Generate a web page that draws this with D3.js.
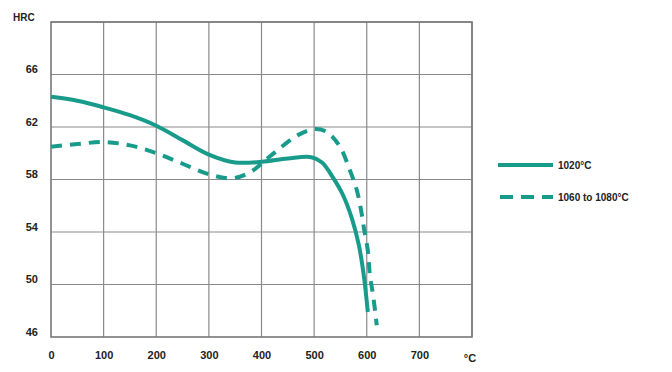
<!DOCTYPE html>
<html><head><meta charset="utf-8">
<script src="https://cdn.jsdelivr.net/npm/d3@7"></script>
<style>body{margin:0;background:#fff}svg{display:block}text{font-family:"Liberation Sans",Arial,sans-serif;font-weight:bold;fill:#222}</style>
</head><body>
<svg id="c" width="672" height="372"></svg>
<script>
const xTicks = [0,100,200,300,400,500,600,700];
const yTicks = [46,50,54,58,62,66];
const seriesNames = ["1020°C","1060 to 1080°C"];
const solidT = [0,50,100,150,200,250,300,350,400,450,495,515,535,555,572,585,595,602];
const solidH = [64.3,64.0,63.5,62.9,62.1,61.0,59.9,59.3,59.35,59.6,59.7,59.3,58.2,56.8,55.0,53.0,50.5,47.9];
const dashT = [0,50,100,150,200,250,300,345,380,420,470,502,525,549,568,581,589,595,602,606,612,619];
const dashH = [60.5,60.7,60.85,60.6,60.0,59.2,58.4,58.1,58.6,59.9,61.4,61.85,61.6,60.5,58.7,57.2,55.7,54.2,52.6,50.7,49.2,46.9];

const svg = d3.select("#c");
const x = d3.scaleLinear().domain([0,800]).range([51,472]);
const y = d3.scaleLinear().domain([46,70]).range([337,22]);
const color = "#199b8b";

const g = svg.append("g");
g.selectAll(".vx").data(xTicks.slice(1).concat([800])).enter().append("line")
  .attr("x1",d=>x(d)).attr("x2",d=>x(d)).attr("y1",y(70)).attr("y2",y(46))
  .attr("stroke","#8a8a8a").attr("stroke-width",1.2);
g.selectAll(".hy").data(yTicks.slice(1).concat([70])).enter().append("line")
  .attr("x1",x(0)).attr("x2",x(800)).attr("y1",d=>y(d)).attr("y2",d=>y(d))
  .attr("stroke","#8a8a8a").attr("stroke-width",1.2);
g.append("rect").attr("x",x(0)).attr("y",y(70)).attr("width",x(800)-x(0)).attr("height",y(46)-y(70))
  .attr("fill","none").attr("stroke","#777").attr("stroke-width",1.6);

const xa = svg.append("g").attr("transform",`translate(0,${y(46)})`)
  .call(d3.axisBottom(x).tickValues(xTicks).tickSize(0).tickPadding(14).tickFormat(d3.format("d")));
xa.select(".domain").remove();
xa.selectAll("text").style("font-size","11px").attr("fill","#222");
const ya = svg.append("g").attr("transform",`translate(${x(0)},0)`)
  .call(d3.axisLeft(y).tickValues(yTicks).tickSize(0).tickPadding(13).tickFormat(d3.format("d")));
ya.select(".domain").remove();
ya.selectAll("text").style("font-size","11px").attr("fill","#222");
ya.selectAll(".tick text").attr("dy","-0.15em");

svg.append("text").attr("x",13).attr("y",21).style("font-size","10px").text("HRC");
svg.append("text").attr("x",470).attr("y",y(46)+25).attr("text-anchor","middle").style("font-size","11px").text("°C");

const lc = d3.line().x(d=>x(d[0])).y(d=>y(d[1])).curve(d3.curveCatmullRom.alpha(0.5));
const solid = solidT.map((t,i)=>[t,solidH[i]]);
const dash = dashT.map((t,i)=>[t,dashH[i]]);
svg.append("path").attr("d",lc(solid)).attr("fill","none").attr("stroke",color).attr("stroke-width",4);
svg.append("path").attr("d",lc(dash)).attr("fill","none").attr("stroke",color).attr("stroke-width",4)
  .attr("stroke-dasharray","11,8");

const leg = svg.append("g");
leg.append("line").attr("x1",498).attr("x2",553).attr("y1",165).attr("y2",165).attr("stroke",color).attr("stroke-width",4);
leg.append("line").attr("x1",500).attr("x2",553).attr("y1",197).attr("y2",197).attr("stroke",color).attr("stroke-width",4).attr("stroke-dasharray","13,8");
leg.append("text").attr("x",558).attr("y",169).style("font-size","10px").text(seriesNames[0]);
leg.append("text").attr("x",558).attr("y",201).style("font-size","10px").text(seriesNames[1]);
</script>
</body></html>
